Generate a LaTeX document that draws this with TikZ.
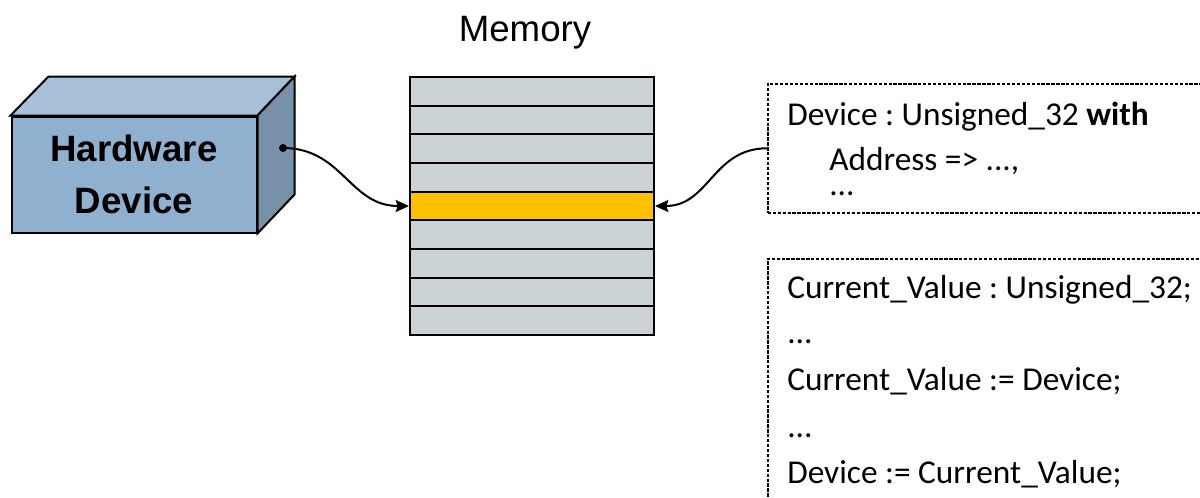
\documentclass[tikz,border=0pt]{standalone}
\usepackage{fontspec}
\setmainfont{Carlito}
\newfontfamily\arialfont{Liberation Sans}
\usetikzlibrary{arrows.meta}
\frenchspacing
\definecolor{hwfront}{HTML}{8FB0CF}
\definecolor{hwtop}{HTML}{A7C0D8}
\definecolor{hwside}{HTML}{7891A8}
\definecolor{cellgray}{HTML}{CBD3D6}
\definecolor{slotorange}{HTML}{FFC000}
\tikzset{
        hw_face/.style = {draw=black, line width=1.5pt, line join=miter},
        hw_front/.style = {hw_face, rectangle, fill=hwfront, inner sep=0pt,
            minimum width=183.75pt, minimum height=87pt, align=center,
            font=\arialfont\bfseries\fontsize{27.5}{39}\selectfont},
        mem_cell/.style = {rectangle, draw=black, line width=1.5pt, fill=cellgray,
            minimum width=183pt, minimum height=21.5pt, inner sep=0pt},
        mem_title/.style = {inner sep=0pt, font=\arialfont\fontsize{27.5}{32}\selectfont},
        code_box/.style = {rectangle, draw=black, line width=1.2pt,
            dash pattern=on 2.5pt off 1.2pt, inner sep=0pt},
        code_txt/.style = {inner sep=0pt, anchor=base west,
            font=\fontsize{25}{29}\selectfont},
        link/.style = {line width=1.5pt, -{Stealth[length=10pt,width=9pt,inset=1.5pt]}}
    }
\begin{document}
\begin{tikzpicture}[x=0.75pt,y=-0.75pt]
    \useasboundingbox (0,0) rectangle (1200,497);
    \clip (0,0) rectangle (1200,497);
    % hardware device box
    \node [hw_front] (hwfront) at (134,174.5) {Hardware\\Device};
    \draw [hw_face, fill=hwtop] (hwfront.north west) -- ++(38,-39)
        -- ([shift={(37,-39)}]hwfront.north east) -- (hwfront.north east) -- cycle;
    \draw [hw_face, fill=hwside] (hwfront.north east) -- ++(37,-39)
        -- ([shift={(37,-39)}]hwfront.south east) -- (hwfront.south east) -- cycle;
    \coordinate (port) at (283,148);
    \fill (port) circle (3pt);
    % memory cells
    \foreach \i in {0,...,8}{
        \ifnum\i=4 \def\cellfill{slotorange}\else\def\cellfill{cellgray}\fi
        \node [mem_cell, fill=\cellfill] (cell\i) at (532,91.33+\i*28.67) {};
    }
    \node [mem_title, anchor=base] (memlabel) at (525,41) {Memory};
    % declaration
    \node [code_box, anchor=north west, minimum width=370pt, minimum height=96.75pt]
        (decl) at (767,83) {};
    \node [code_txt] (decl1) at (787,125) {Device : Unsigned\_32 \textbf{with}};
    \node [code_txt] (decl2) at (829,170) {Address => ...,};
    \node [code_txt] (decl3) at (829,195) {...};
    % usage
    \node [code_box, anchor=north west, minimum width=370pt, minimum height=220pt]
        (usage) at (767,258) {};
    \node [code_txt] (use1) at (787,298) {Current\_Value : Unsigned\_32;};
    \node [code_txt] (use2) at (787,343) {...};
    \node [code_txt] (use3) at (787,390) {Current\_Value := Device;};
    \node [code_txt] (use4) at (787,437) {...};
    \node [code_txt] (use5) at (787,483) {Device := Current\_Value;};
    % connectors
    \draw [link] (port) to[out=0,in=180,looseness=1.1] (cell4.west);
    \draw [link] (decl.west) to[out=180,in=0,looseness=1.1] (cell4.east);
\end{tikzpicture}
\end{document}
